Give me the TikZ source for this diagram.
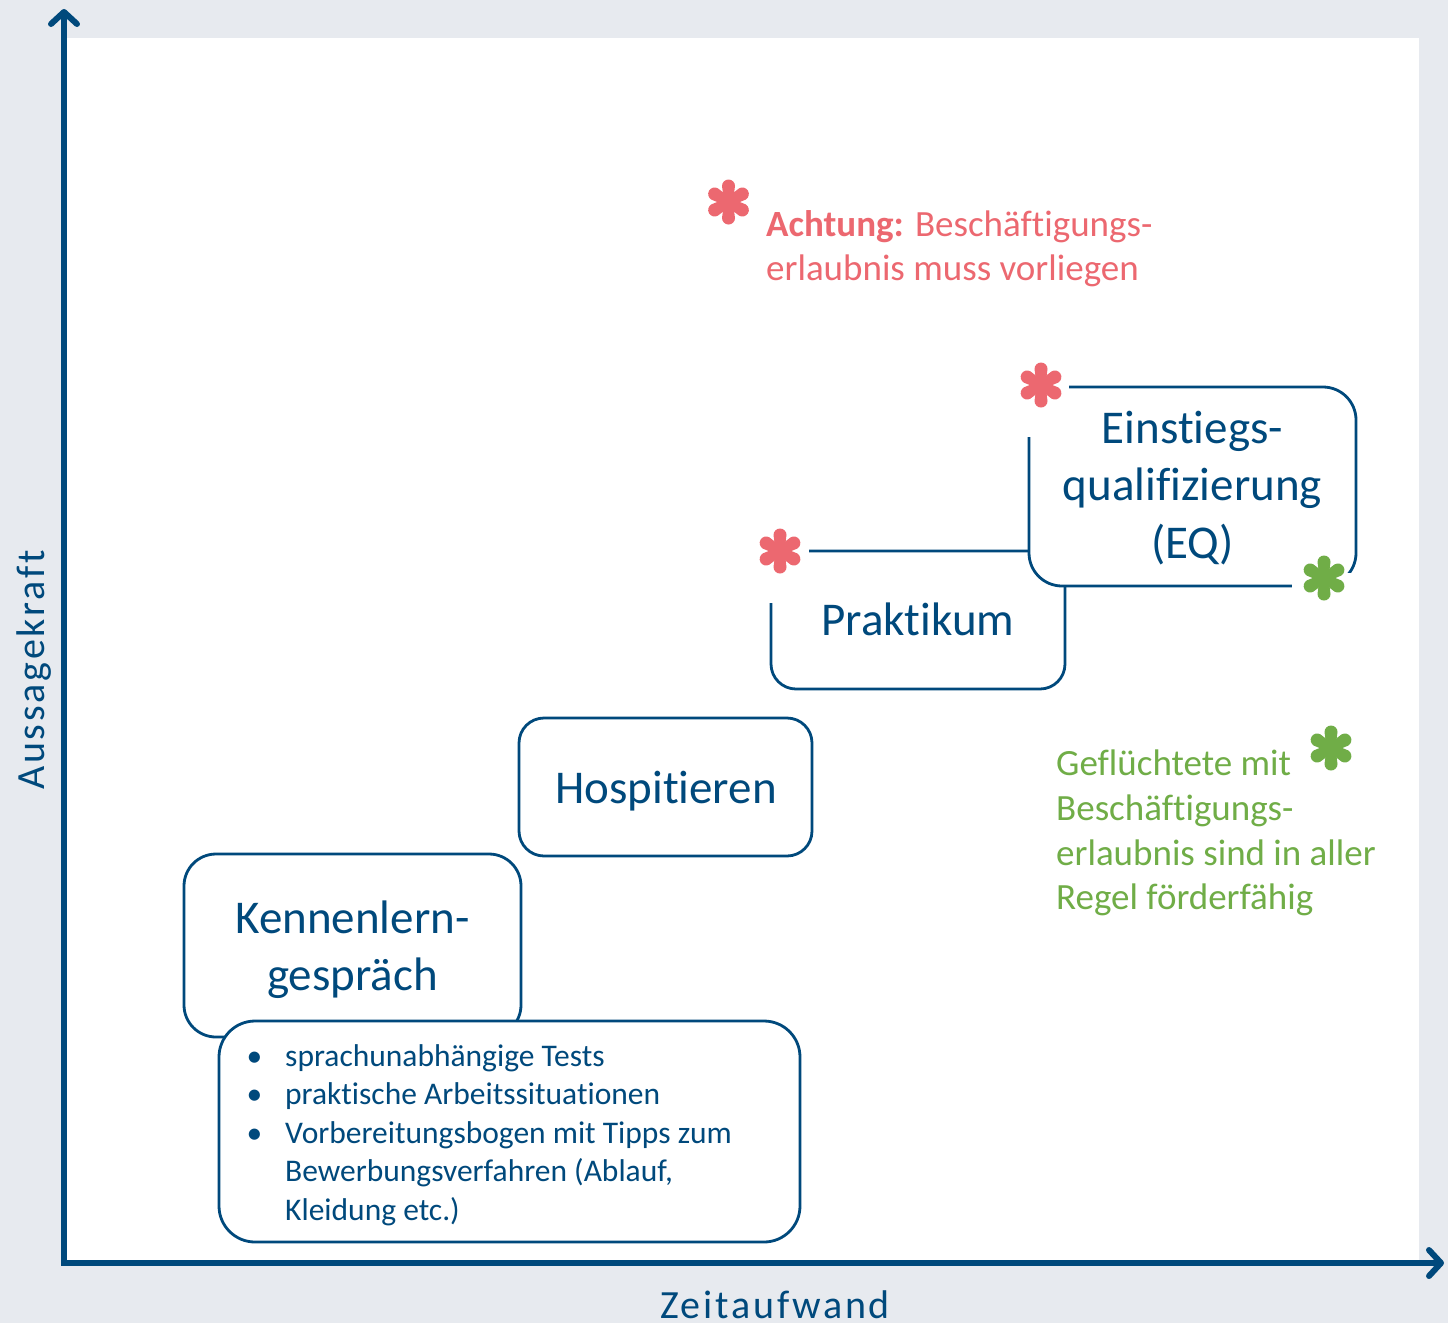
\documentclass[tikz,border=0pt]{standalone}
\usepackage{fontspec}
\setmainfont{Carlito}[RawFeature={-liga;-clig;-calt;-rlig;-dlig}]
\usetikzlibrary{arrows.meta}
\definecolor{navy}{RGB}{0,73,124}
\definecolor{bgc}{RGB}{231,234,239}
\definecolor{redc}{RGB}{236,104,112}
\definecolor{greenc}{RGB}{112,173,71}
\begin{document}
\begin{tikzpicture}[x=1pt,y=-1pt,
  box/.style={draw=navy, line width=2.8pt, fill=white, rounded corners=#1, inner sep=0pt},
  boxtxt/.style={text=navy, inner sep=0pt, anchor=base, font=\fontsize{47}{57}\selectfont},
  axislabel/.style={text=navy, inner sep=0pt, font=\fontsize{40}{48}\selectfont\addfontfeatures{LetterSpace=7}},
  notered/.style={text=redc, inner sep=0pt, anchor=base west, font=\fontsize{37}{44}\selectfont},
  notegreen/.style={text=greenc, inner sep=0pt, anchor=base west, font=\fontsize{37}{44}\selectfont},
  listtxt/.style={text=navy, inner sep=0pt, anchor=base west, font=\fontsize{31.5}{38.5}\selectfont},
  cover/.style={fill=white},
  astx/.pic={\foreach \a in {90,30,-30,-90,150,210}{
      \fill[rotate=\a] (0,-4.4) -- (16,-6.5) arc[start angle=-90,end angle=90,radius=6.5] -- (0,4.4) -- cycle;}}
]
\useasboundingbox (0,0) rectangle (1448,1323);
\fill[bgc] (0,0) rectangle (1448,1323);
\fill[white] (64,38) rectangle (1419,1263);

% axes
\coordinate (ytip) at (64,9);
\coordinate (origin) at (64,1263);
\coordinate (xtip) at (1444,1263);
\draw[navy, line width=6pt,
  {Straight Barb[length=12pt,width=26pt,round]}-{Straight Barb[length=12pt,width=26pt,round]}]
  (ytip) -- (origin) -- (xtip);

\node[axislabel, anchor=base] (zeit) at (775,1318) {Zeitaufwand};
\node[axislabel, rotate=90, anchor=base] (aus) at (44,670) {Aussagekraft};

% boxes
\node[box=32pt, minimum width=337pt, minimum height=183pt] (kenn) at (352.5,945.5) {};
\node[box=36pt, minimum width=581pt, minimum height=221pt] (list) at (509.5,1131.5) {};
\node[box=25pt, minimum width=293pt, minimum height=138pt] (hosp) at (665.5,787) {};
\node[box=25pt, minimum width=294pt, minimum height=138pt] (prak) at (918,620) {};
\node[box=33pt, minimum width=327pt, minimum height=199pt] (eq) at (1192.5,486.5) {};

% box texts
\node[boxtxt] (kenn1) at (352.5,933) {Kennenlern-};
\node[boxtxt] (kenn2) at (352.5,990) {gespräch};
\node[boxtxt] (hospt) at (666,803) {Hospitieren};
\node[boxtxt] (prakt) at (918,635) {Praktikum};
\node[boxtxt] (eq1) at (1192.5,443) {Einstiegs-};
\node[boxtxt] (eq2) at (1192.5,500) {qualifizierung};
\node[boxtxt] (eq3) at (1192.5,558) {(EQ)};

% list text
\node[listtxt] (l1) at (285,1066) {\llap{•\hspace{23pt}}sprachunabhängige Tests};
\node[listtxt] (l2) at (285,1104.5) {\llap{•\hspace{23pt}}praktische Arbeitssituationen};
\node[listtxt] (l3) at (285,1143) {\llap{•\hspace{23pt}}Vorbereitungsbogen mit Tipps zum};
\node[listtxt] (l4) at (285,1181.5) {Bewerbungsverfahren (Ablauf,};
\node[listtxt] (l5) at (285,1220) {Kleidung etc.)};

% asterisk covers and asterisks
\fill[cover] (752,520) rectangle (809,603);
\fill[cover] (1012,355) rectangle (1069,437);
\fill[cover] (1292,573) rectangle (1362,612);
\pic[color=redc] (astP) at (780,551) {astx};
\pic[color=redc] (astE) at (1041,385) {astx};
\pic[color=greenc] (astG) at (1324,578) {astx};
\pic[color=redc] (astA) at (728.5,202) {astx};
\pic[color=greenc] (astN) at (1331,748) {astx};

% notes
\node[notered] (ach1) at (766,236) {\textbf{Achtung:} Beschäftigungs-};
\node[notered] (ach2) at (766,280) {erlaubnis muss vorliegen};
\node[notegreen] (g1) at (1056,775) {Geflüchtete mit};
\node[notegreen] (g2) at (1056,820) {Beschäftigungs-};
\node[notegreen] (g3) at (1056,865) {erlaubnis sind in aller};
\node[notegreen] (g4) at (1056,909) {Regel förderfähig};
\end{tikzpicture}
\end{document}
